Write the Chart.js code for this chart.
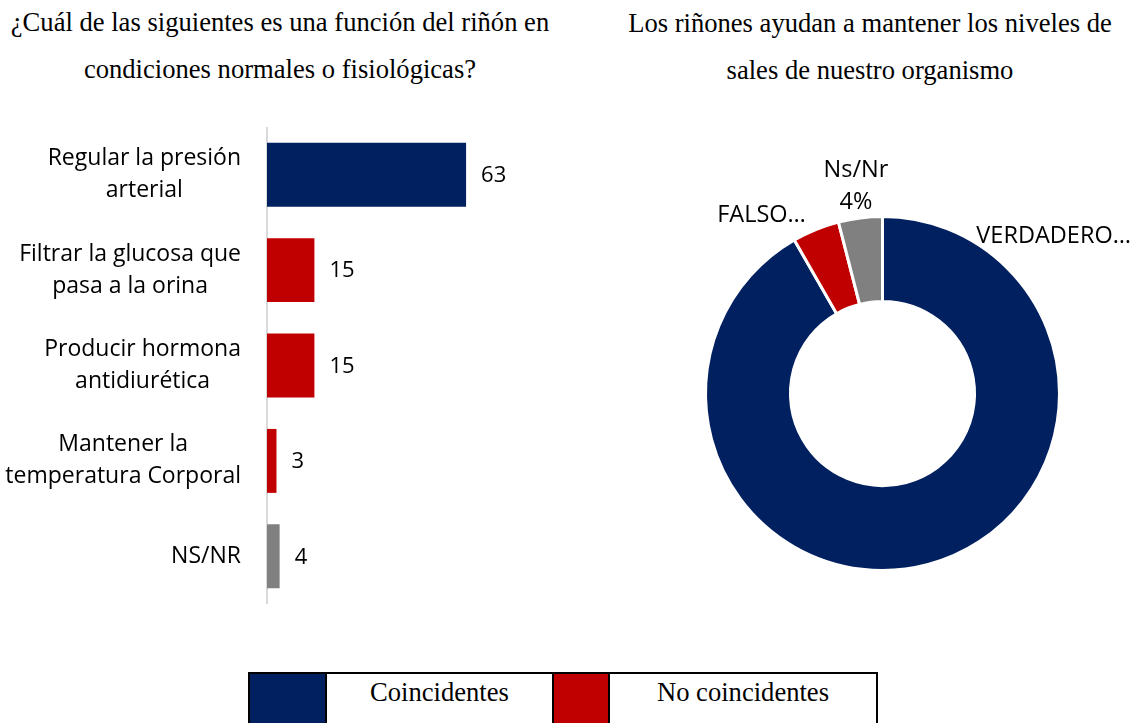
<!DOCTYPE html>
<html><head><meta charset="utf-8">
<script src="https://cdn.jsdelivr.net/npm/chart.js@4"></script>
<style>
body{margin:0;width:1131px;height:723px;background:#fff;position:relative;overflow:hidden;}
.title{position:absolute;font-family:"Liberation Serif","Times New Roman",serif;font-size:26.6px;line-height:47px;text-align:center;color:#000;}
#t1{left:0;top:-1px;width:560px;}
#t2{left:600px;top:0;width:540px;}
#c1wrap{position:absolute;left:0;top:127px;width:583px;height:477px;}
#c2wrap{position:absolute;left:690px;top:140px;width:441px;height:480px;}
#legend{position:absolute;left:248px;top:672px;border-collapse:collapse;border:2px solid #000;font-family:"Liberation Serif","Times New Roman",serif;font-size:26.6px;}
#legend td{border:2px solid #000;height:60px;padding:0;vertical-align:top;text-align:center;line-height:36px;}
</style></head>
<body>
<div class="title" id="t1">¿Cuál de las siguientes es una función del riñón en<br>condiciones normales o fisiológicas?</div>
<div class="title" id="t2">Los riñones ayudan a mantener los niveles de<br>sales de nuestro organismo</div>
<div id="c1wrap"><canvas id="c1"></canvas></div>
<div id="c2wrap"><canvas id="c2"></canvas></div>
<table id="legend"><tr>
<td id="lb0" style="width:75px;background:#002060"></td><td id="lt0" style="width:225px"></td>
<td id="lb1" style="width:54px;background:#C00000"></td><td id="lt1" style="width:266px"></td>
</tr></table>
<script>
const categories = [["Regular la presión","arterial"],["Filtrar la glucosa que","pasa a la orina"],["Producir hormona","antidiurética"],["Mantener la","temperatura Corporal"],["NS/NR"]];
const barValues = [63,15,15,3,4];
const barColors = ['#002060','#C00000','#C00000','#C00000','#808080'];
const pieLabels = ['VERDADERO','FALSO','Ns/Nr'];
const pieValues = [91.7,4.3,4];
const pieColors = ['#002060','#C00000','#808080'];
const legendLabels = ['Coincidentes','No coincidentes'];

document.getElementById('lt0').textContent = legendLabels[0];
document.getElementById('lt1').textContent = legendLabels[1];

const LABEL_FONT = '23px "Open Sans"';
const PIE_FONT = '23.5px "Open Sans"';

const barLabelPlugin = {
  id:'barLabels',
  afterDraw(chart){
    const ctx = chart.ctx, ys = chart.scales.y, xs = chart.scales.x;
    ctx.save();
    ctx.font = LABEL_FONT; ctx.fillStyle = '#000'; ctx.textBaseline = 'middle';
    const rightEdge = chart.chartArea.left - 26;
    categories.forEach((lines,i)=>{
      const cy = ys.getPixelForValue(i);
      const maxW = Math.max(...lines.map(l=>ctx.measureText(l).width));
      const cx = rightEdge - maxW/2;
      ctx.textAlign = 'center';
      lines.forEach((l,j)=>ctx.fillText(l, cx, cy + (j-(lines.length-1)/2)*32));
    });
    ctx.font = '22px "Open Sans"';
    ctx.textAlign = 'left';
    barValues.forEach((v,i)=>ctx.fillText(String(v), xs.getPixelForValue(v)+15, ys.getPixelForValue(i)+1));
    ctx.restore();
  }
};

new Chart(document.getElementById('c1'), {
  type:'bar',
  data:{labels:categories.map(c=>c.join(' ')), datasets:[{data:barValues, backgroundColor:barColors, barPercentage:0.67, categoryPercentage:1}]},
  options:{
    indexAxis:'y', responsive:true, maintainAspectRatio:false, animation:false, events:[],
    layout:{padding:0},
    plugins:{legend:{display:false}, tooltip:{enabled:false}},
    scales:{
      x:{display:false, min:0, max:100},
      y:{ticks:{display:false}, grid:{display:false, drawTicks:false}, border:{display:true, color:'#d9d9d9', width:2},
         afterFit(s){ s.width = 267; }}
    }
  },
  plugins:[barLabelPlugin]
});

const pieLabelPlugin = {
  id:'pieLabels',
  afterDraw(chart){
    const ctx = chart.ctx; const arc = chart.getDatasetMeta(0).data[0];
    const cx = arc.x, cy = arc.y, r = arc.outerRadius;
    const total = pieValues.reduce((a,b)=>a+b,0);
    ctx.save();
    ctx.font = PIE_FONT; ctx.fillStyle = '#000'; ctx.textBaseline = 'middle';
    ctx.textAlign = 'left';
    ctx.fillText(pieLabels[0]+'…', cx + 0.53*r, cy - 0.887*r);
    ctx.textAlign = 'right';
    ctx.fillText(pieLabels[1]+'…', cx - 0.433*r, cy - 1.006*r);
    ctx.textAlign = 'center';
    ctx.fillText(pieLabels[2], cx - 0.15*r, cy - 1.26*r);
    ctx.fillText(Math.round(pieValues[2]/total*100)+'%', cx - 0.15*r, cy - 1.08*r);
    ctx.restore();
  }
};

new Chart(document.getElementById('c2'), {
  type:'doughnut',
  data:{labels:pieLabels, datasets:[{data:pieValues, backgroundColor:pieColors, borderColor:'#fff', borderWidth:3, hoverOffset:0}]},
  options:{
    responsive:true, maintainAspectRatio:false, animation:false, events:[], cutout:'52%',
    layout:{padding:{left:14, right:70, top:75, bottom:48}},
    plugins:{legend:{display:false}, tooltip:{enabled:false}}
  },
  plugins:[pieLabelPlugin]
});
</script>
</body></html>
